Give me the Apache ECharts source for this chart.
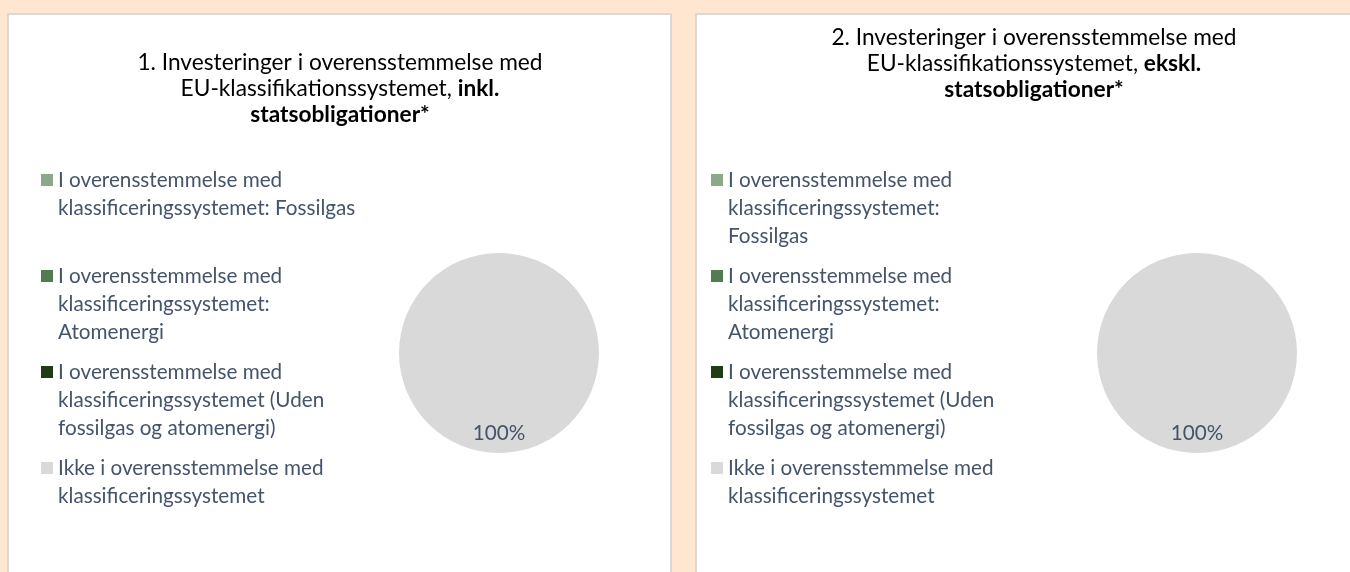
<!DOCTYPE html>
<html>
<head>
<meta charset="utf-8">
<script src="https://cdn.jsdelivr.net/npm/echarts@6/dist/echarts.min.js"></script>
<style>
  html, body { margin: 0; padding: 0; width: 1350px; height: 572px; overflow: hidden; background: #fee6d0; }
  .panel { position: absolute; top: 13px; width: 661px; height: 580px; background: #fff; border: 2px solid #d9d9d9; }
  #left { left: 7px; }
  #right { left: 695px; }
</style>
</head>
<body>
<div id="left" class="panel"></div>
<div id="right" class="panel"></div>
<script>
const categories = [
  'I overensstemmelse med klassificeringssystemet: Fossilgas',
  'I overensstemmelse med klassificeringssystemet: Atomenergi',
  'I overensstemmelse med klassificeringssystemet (Uden fossilgas og atomenergi)',
  'Ikke i overensstemmelse med klassificeringssystemet'
];
const inklValues = [0, 0, 0, 100];
const ekslValues = [0, 0, 0, 100];
const colors = ['#8ea78b', '#527b4f', '#1f3d14', '#d9d9d9'];

const inklTitle = '1. Investeringer i overensstemmelse med\nEU-klassifikationssystemet, {b|inkl.}\n{b|statsobligationer*}';
const ekslTitle = '2. Investeringer i overensstemmelse med\nEU-klassifikationssystemet, {b|ekskl.}\n{b|statsobligationer*}';

const FONT = 'Lato, "Open Sans", sans-serif';
const LEGEND_SIZE = 20.7;
const LINE = 28;

// greedy word wrap, same idea as overflow: 'break'
const ctx = document.createElement('canvas').getContext('2d');
ctx.font = LEGEND_SIZE + 'px ' + FONT;
function lineCount(text, width) {
  let lines = 1, cur = '';
  text.split(' ').forEach(w => {
    const next = cur ? cur + ' ' + w : w;
    if (cur && ctx.measureText(next).width > width) {
      lines++;
      cur = w;
    } else {
      cur = next;
    }
  });
  return lines;
}

function build(title, values, cfg) {
  return {
    animation: false,
    color: colors,
    title: {
      text: title,
      left: cfg.titleX,
      top: cfg.titleTop,
      padding: 0,
      textAlign: 'center',
      textStyle: {
        fontFamily: FONT, fontSize: 22.7, fontWeight: 'normal', color: '#000',
        lineHeight: 26,
        rich: { b: { fontFamily: FONT, fontSize: 22.7, fontWeight: 'bold', color: '#000', lineHeight: 26 } }
      }
    },
    legend: {
      orient: 'vertical',
      left: cfg.legendX,
      top: cfg.legendTop,
      padding: 0,
      itemGap: 12,
      itemWidth: 12,
      itemHeight: LINE * 3,
      icon: 'path://M0,0M12,84M0,8h12v12h-12Z',
      selectedMode: false,
      // every entry gets a three-line slot, text sits at the top of it
      formatter: name => name + '\n\u00a0'.repeat(Math.max(0, 3 - lineCount(name, cfg.legendWidth))),
      textStyle: {
        fontFamily: FONT, fontSize: LEGEND_SIZE, color: '#44546a',
        lineHeight: LINE,
        width: cfg.legendWidth, overflow: 'break'
      },
      data: categories
    },
    series: [{
      type: 'pie',
      center: cfg.center,
      radius: 100,
      startAngle: 90,
      silent: true,
      itemStyle: { borderWidth: 0 },
      label: {
        position: 'inside',
        offset: [0, 27],
        fontFamily: FONT, fontSize: 20.7, color: '#44546a',
        formatter: p => p.value ? p.percent + '%' : ''
      },
      labelLine: { show: false },
      data: categories.map((name, i) => ({ name, value: values[i] }))
    }]
  };
}

const leftChart = echarts.init(document.getElementById('left'));
leftChart.setOption(build(inklTitle, inklValues, {
  titleX: 331, titleTop: 35, legendX: 32, legendTop: 151, legendWidth: 310, center: [490, 338]
}));

const rightChart = echarts.init(document.getElementById('right'));
rightChart.setOption(build(ekslTitle, ekslValues, {
  titleX: 337, titleTop: 10, legendX: 14, legendTop: 151, legendWidth: 285, center: [500, 338]
}));
</script>
</body>
</html>
